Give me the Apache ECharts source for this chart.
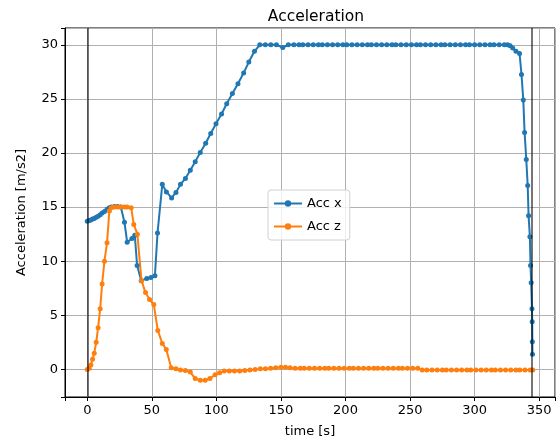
<!DOCTYPE html>
<html>
<head>
<meta charset="utf-8">
<script src="https://cdn.jsdelivr.net/npm/echarts@6/dist/echarts.min.js"></script>
<style>
  html, body { margin: 0; padding: 0; background: #fff; }
  #main { width: 558px; height: 445px; }
</style>
</head>
<body>
<div id="main"></div>
<script>
// time stamps [s] and values [m/s2]
var timeX = [0, 1.5, 2.8, 4.1, 5.4, 6.9, 8.4, 10, 11.5, 13.3, 15.3, 17.1, 18.6, 21, 23.5, 26,
  28.8, 30.9, 34.6, 36.8, 38.6, 41.8, 46.1, 49.3, 52.4, 54.4, 58.1, 61.3, 65.3, 68.7, 72.2,
  76, 79.8, 83.6, 87.5, 91.7, 95.6, 99.7, 104, 108, 112.4, 116.7, 121.1, 125.1, 129.5,
  133.6, 137.9, 142.2, 146.5, 151.4, 155.7, 160, 164, 167, 171, 175, 179, 182, 186, 190,
  194, 198, 201, 205, 209, 213, 217, 220, 224, 228, 232, 236, 239, 243, 247, 251, 255,
  258, 262, 266, 270, 274, 277, 281, 285, 289, 293, 296, 300, 304, 308, 312, 315, 319,
  323, 325.5, 327.5, 329.5, 332, 334.8, 336.3, 337.7, 338.7, 340, 341.1, 341.8, 342.8,
  343.3, 343.8, 344.4, 344.6, 344.7, 344.8];
var accX = [13.7, 13.75, 13.8, 13.9, 13.95, 14.05, 14.15, 14.3, 14.45, 14.6, 14.8, 14.95, 15.0, 15.05, 15.05, 15.0,
  13.6, 11.75, 12.1, 12.4, 9.6, 8.2, 8.4, 8.5, 8.65, 12.6, 17.1, 16.4, 15.85, 16.35, 17.1,
  17.65, 18.4, 19.2, 20.05, 20.9, 21.8, 22.7, 23.6, 24.55, 25.5, 26.4, 27.4, 28.4, 29.4,
  30, 30, 30, 30, 29.75, 30, 30, 30, 30, 30, 30, 30, 30, 30, 30,
  30, 30, 30, 30, 30, 30, 30, 30, 30, 30, 30, 30, 30, 30, 30, 30, 30,
  30, 30, 30, 30, 30, 30, 30, 30, 30, 30, 30, 30, 30, 30, 30, 30, 30,
  30, 30, 29.9, 29.7, 29.4, 29.2, 27.25, 24.9, 21.9, 19.4, 17.0, 14.2, 12.25,
  9.6, 8.0, 5.6, 4.4, 2.55, 1.4];

var timeZ = [0, 1.5, 2.8, 4.1, 5.4, 6.9, 8.4, 10, 11.5, 13.3, 15.3, 17.1, 18.6, 21, 23.5, 26,
  28.8, 30.9, 34, 36, 38.8, 42, 45.1, 48.2, 51.5, 54.6, 58.1, 61.2, 65, 68.7, 72.2, 76,
  79.8, 83.6, 87.5, 91.3, 95, 99, 102.5, 106, 110, 114, 118, 122, 126, 130, 134, 138, 142,
  146, 150, 153.5, 157, 161, 165, 168, 172, 176, 180, 184, 187, 191, 195, 199, 203, 206,
  210, 214, 218, 222, 225, 229, 233, 237, 241, 244, 248, 252, 256, 259.5, 263, 267, 271,
  275, 278, 282, 286, 290, 294, 297, 301, 305, 309, 313, 316, 320, 324, 328, 332, 335,
  339, 343, 345];
var accZ = [0, 0.1, 0.4, 0.95, 1.5, 2.5, 3.85, 5.6, 7.9, 10.0, 11.7, 14.65, 14.95, 15.0, 15.0, 15.0,
  15.0, 15.0, 14.95, 13.4, 12.5, 8.2, 7.1, 6.45, 6.0, 3.6, 2.4, 1.85, 0.15, 0.05, -0.05, -0.1,
  -0.25, -0.85, -1.0, -1.0, -0.85, -0.5, -0.3, -0.15, -0.15, -0.15, -0.15, -0.1, -0.05, 0, 0.05, 0.05, 0.1,
  0.15, 0.2, 0.2, 0.15, 0.1, 0.1, 0.1, 0.1, 0.1, 0.1, 0.1, 0.1, 0.1, 0.1, 0.1, 0.1, 0.1,
  0.1, 0.1, 0.1, 0.1, 0.1, 0.1, 0.1, 0.1, 0.1, 0.1, 0.1, 0.1, 0.1, -0.05, -0.05, -0.05, -0.05,
  -0.05, -0.05, -0.05, -0.05, -0.05, -0.05, -0.05, -0.05, -0.05, -0.05, -0.05, -0.05, -0.05, -0.05, -0.05, -0.05, -0.05,
  -0.05, -0.05, -0.05];

var markTimes = [0, 344.5];

function pairs(t, v) {
  var out = [];
  for (var i = 0; i < t.length; i++) out.push([t[i], v[i]]);
  return out;
}

var font = "DejaVu Sans";

var option = {
  animation: false,
  backgroundColor: "#fff",
  title: {
    text: "Acceleration",
    left: 311,
    top: 4,
    textAlign: "center",
    textStyle: { fontFamily: font, fontSize: 15.5, fontWeight: "normal", color: "#000" },
  },
  legend: {
    orient: "vertical",
    left: 268,
    top: 190,
    itemWidth: 28,
    itemHeight: 8,
    itemGap: 10,
    padding: [7, 8, 7, 5],
    backgroundColor: "rgba(255,255,255,0.8)",
    borderColor: "#d0d0d0",
    borderWidth: 1,
    borderRadius: 3,
    textStyle: { fontFamily: font, fontSize: 13, color: "#000" },
    data: ["Acc x", "Acc z"],
  },
  grid: {
    left: 65,
    right: 1,
    top: 28,
    bottom: 48,
    show: true,
    borderColor: "#000",
    borderWidth: 1,
  },
  xAxis: {
    type: "value",
    min: -17.25,
    max: 362.25,
    splitNumber: 7,
    name: "time [s]",
    nameLocation: "middle",
    nameGap: 28,
    nameTextStyle: { fontFamily: font, fontSize: 13, color: "#000" },
    axisLine: { onZero: false, lineStyle: { color: "#000" } },
    axisTick: { show: true, length: 4, lineStyle: { color: "#000" } },
    axisLabel: {
      margin: 7,
      fontFamily: font,
      fontSize: 13,
      color: "#000",
      formatter: function (v) { return Math.abs(v % 50) < 1e-6 ? String(v) : ""; },
    },
    splitLine: { show: true, lineStyle: { color: "#b0b0b0", width: 1 } },
  },
  yAxis: {
    type: "value",
    min: -2.55,
    max: 31.55,
    splitNumber: 7,
    name: "Acceleration [m/s2]",
    nameLocation: "middle",
    nameGap: 37,
    nameTextStyle: { fontFamily: font, fontSize: 13, color: "#000" },
    axisLine: { show: true, onZero: false, lineStyle: { color: "#000" } },
    axisTick: { show: true, length: 4, lineStyle: { color: "#000" } },
    axisLabel: {
      margin: 7,
      fontFamily: font,
      fontSize: 13,
      color: "#000",
      formatter: function (v) { return Math.abs(v % 5) < 1e-6 ? String(v) : ""; },
    },
    splitLine: { show: true, lineStyle: { color: "#b0b0b0", width: 1 } },
  },
  series: [
    {
      name: "Acc x",
      type: "line",
      data: pairs(timeX, accX),
      symbol: "circle",
      symbolSize: 5,
      color: "#1f77b4",
      lineStyle: { width: 2 },
      markLine: {
        silent: true,
        symbol: ["none", "none"],
        label: { show: false },
        lineStyle: { color: "rgba(0,0,0,0.6)", width: 1.8, type: "solid" },
        data: markTimes.map(function (t) { return { xAxis: t }; }),
      },
    },
    {
      name: "Acc z",
      type: "line",
      data: pairs(timeZ, accZ),
      symbol: "circle",
      symbolSize: 5,
      color: "#ff7f0e",
      lineStyle: { width: 2 },
    },
  ],
};

var myChart = echarts.init(document.getElementById("main"));
myChart.setOption(option);
</script>
</body>
</html>
